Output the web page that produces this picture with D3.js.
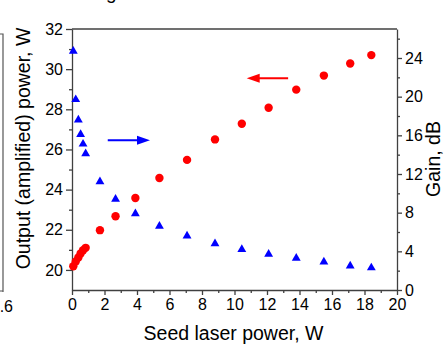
<!DOCTYPE html>
<html>
<head>
<meta charset="utf-8">
<script src="https://cdn.jsdelivr.net/npm/d3@7"></script>
<style>
  body { margin: 0; background: #fff; }
  svg { display: block; font-family: "Liberation Sans", Arial, sans-serif; }
  .axis path, .axis line { stroke: #404040; stroke-width: 1.3; }
  .axis text { fill: #000; font-size: 16px; font-family: "Liberation Sans", Arial, sans-serif; }
</style>
</head>
<body>
<div id="chart"></div>
<script>
// seed laser power, W
const seedPower = [0.08, 0.23, 0.39, 0.53, 0.68, 0.84, 1.72, 2.68, 3.9, 5.38, 7.08, 8.8, 10.45, 12.1, 13.8, 15.5, 17.12, 18.42]
// output (amplified) power, W
const outputPower = [20.18, 20.42, 20.62, 20.82, 20.98, 21.1, 21.98, 22.67, 23.58, 24.58, 25.48, 26.5, 27.28, 28.08, 28.98, 29.68, 30.28, 30.7]
// gain, dB
const gainDb = [24.7, 19.7, 17.6, 16.1, 15.1, 14.1, 11.2, 9.4, 7.9, 6.6, 5.6, 4.8, 4.2, 3.7, 3.3, 2.9, 2.5, 2.3]

const xTicks = [0, 2, 4, 6, 8, 10, 12, 14, 16, 18, 20]
const xMinor = [1, 3, 5, 7, 9, 11, 13, 15, 17, 19]
const leftTicks = [20, 22, 24, 26, 28, 30, 32]
const leftMinor = [21, 23, 25, 27, 29, 31]
const rightTicks = [0, 4, 8, 12, 16, 20, 24]
const rightMinor = [2, 6, 10, 14, 18, 22, 26]

const W = 447, H = 347
const plot = { left: 72, right: 397, top: 29, bottom: 290 }

const svg = d3.select('#chart').append('svg')
  .attr('width', W).attr('height', H)

const x = d3.scaleLinear().domain([0, 20]).range([plot.left, plot.right])
const yL = d3.scaleLinear().domain([19, 32]).range([plot.bottom, plot.top])
const yR = d3.scaleLinear().domain([0, 27]).range([plot.bottom, plot.top])

// bits of the neighbouring panel cut off at the left edge
svg.append('path')
  .attr('d', 'M0,34 H3 V292 M0,291 H3')
  .attr('fill', 'none').attr('stroke', '#555').attr('stroke-width', 1.2)
svg.append('text').attr('x', 13).attr('y', 311.5).attr('text-anchor', 'end')
  .style('font-size', '16px').text('1.6')
svg.append('text').attr('x', 106).attr('y', -1.5)
  .style('font-size', '19px').text('g')

// top frame line
svg.append('line')
  .attr('x1', plot.left).attr('x2', plot.right)
  .attr('y1', plot.top).attr('y2', plot.top)
  .attr('stroke', '#404040').attr('stroke-width', 1.3)

// bottom axis
svg.append('g').attr('class', 'axis')
  .attr('transform', 'translate(0,' + plot.bottom + ')')
  .call(d3.axisBottom(x).tickValues(xTicks).tickSize(5).tickSizeOuter(0).tickPadding(4).tickFormat(d3.format('d')))
svg.append('g').attr('class', 'axis')
  .attr('transform', 'translate(0,' + plot.bottom + ')')
  .call(d3.axisBottom(x).tickValues(xMinor).tickSize(3).tickSizeOuter(0).tickFormat(''))
  .select('.domain').remove()

// left axis
svg.append('g').attr('class', 'axis')
  .attr('transform', 'translate(' + plot.left + ',0)')
  .call(d3.axisLeft(yL).tickValues(leftTicks).tickSize(6).tickSizeOuter(0).tickPadding(3))
svg.append('g').attr('class', 'axis')
  .attr('transform', 'translate(' + plot.left + ',0)')
  .call(d3.axisLeft(yL).tickValues(leftMinor).tickSize(3).tickSizeOuter(0).tickFormat(''))
  .select('.domain').remove()

// right axis
svg.append('g').attr('class', 'axis')
  .attr('transform', 'translate(' + plot.right + ',0)')
  .call(d3.axisRight(yR).tickValues(rightTicks).tickSize(5).tickSizeOuter(0).tickPadding(3))
svg.append('g').attr('class', 'axis')
  .attr('transform', 'translate(' + plot.right + ',0)')
  .call(d3.axisRight(yR).tickValues(rightMinor).tickSize(3).tickSizeOuter(0).tickFormat(''))
  .select('.domain').remove()

// axis titles
svg.append('text')
  .attr('transform', 'translate(30,148.5) rotate(-90)')
  .attr('text-anchor', 'middle')
  .style('font-size', '19.5px')
  .text('Output (amplified) power, W')
svg.append('text')
  .attr('transform', 'translate(440,159) rotate(-90)')
  .attr('text-anchor', 'middle')
  .style('font-size', '19.5px')
  .text('Gain, dB')
svg.append('text')
  .attr('x', 233.5).attr('y', 340)
  .attr('text-anchor', 'middle')
  .style('font-size', '19.5px')
  .text('Seed laser power, W')

// gain (blue triangles, right axis)
const tri = d3.symbol().type(d3.symbolTriangle).size(34)
svg.append('g').selectAll('path')
  .data(seedPower)
  .enter()
  .append('path')
  .attr('d', tri)
  .attr('transform', (d, i) => 'translate(' + x(d) + ',' + yR(gainDb[i]) + ')')
  .attr('fill', '#0000ff')

// output power (red circles, left axis)
svg.append('g').selectAll('circle')
  .data(seedPower)
  .enter()
  .append('circle')
  .attr('cx', d => x(d))
  .attr('cy', (d, i) => yL(outputPower[i]))
  .attr('r', 4.2)
  .attr('fill', '#ff0000')

// arrows pointing at the axis each series belongs to
function arrow(x1, x2, y, color) {
  const dir = x2 > x1 ? 1 : -1
  svg.append('line')
    .attr('x1', x1).attr('x2', x2 - dir * 10)
    .attr('y1', y).attr('y2', y)
    .attr('stroke', color).attr('stroke-width', 2)
  svg.append('path')
    .attr('d', 'M' + x2 + ',' + y + ' L' + (x2 - dir * 13) + ',' + (y - 4.5) + ' L' + (x2 - dir * 13) + ',' + (y + 4.5) + 'Z')
    .attr('fill', color)
}
arrow(x(2.2), x(4.8), yR(15.5), '#0000ff')
arrow(x(13.3), x(10.75), yL(29.55), '#ff0000')
</script>
</body>
</html>
